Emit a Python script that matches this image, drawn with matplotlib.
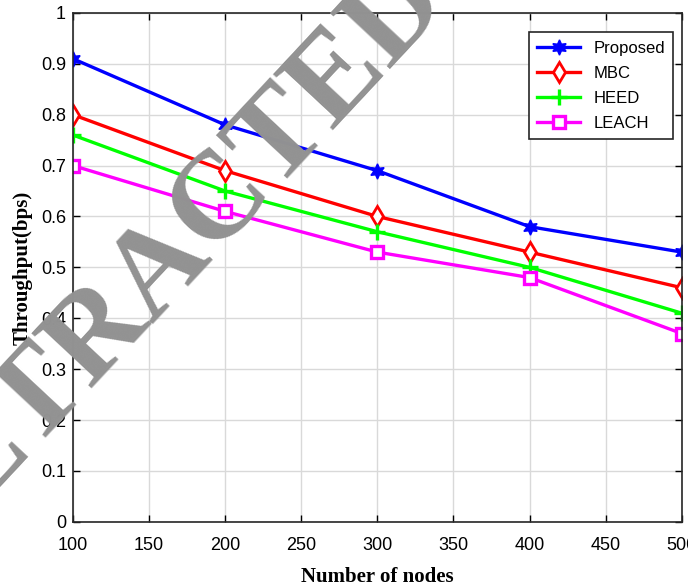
import matplotlib.pyplot as plt

nodes = [100, 200, 300, 400, 500]
proposed = [0.91, 0.78, 0.69, 0.58, 0.53]
mbc = [0.80, 0.69, 0.60, 0.53, 0.46]
heed = [0.76, 0.65, 0.57, 0.50, 0.41]
leach = [0.70, 0.61, 0.53, 0.48, 0.37]

xticks = [100, 150, 200, 250, 300, 350, 400, 450, 500]
yticks = [0, 0.1, 0.2, 0.3, 0.4, 0.5, 0.6, 0.7, 0.8, 0.9, 1]
ylabels = ["0", "0.1", "0.2", "0.3", "0.4", "0.5", "0.6", "0.7", "0.8", "0.9", "1"]

plt.rcParams['font.family'] = ['Liberation Sans', 'DejaVu Sans']

fig = plt.figure(figsize=(6.88, 5.87), dpi=100)
ax = fig.add_axes([0.106, 0.111, 0.885, 0.867])

ax.plot(nodes, proposed, color='#0000ff', lw=2.4, marker=(6, 1, 0), ms=11,
        label='Proposed')
ax.plot(nodes, mbc, color='#ff0000', lw=2.4, marker='d', ms=10,
        mfc='white', mew=2, label='MBC')
ax.plot(nodes, heed, color='#00ff00', lw=2.4, marker='+', ms=11,
        mew=2.4, label='HEED')
ax.plot(nodes, leach, color='#ff00ff', lw=2.4, marker='s', ms=8,
        mfc='white', mew=2.4, label='LEACH')

ax.set_xlim(100, 500)
ax.set_ylim(0, 1)
ax.set_xticks(xticks)
ax.set_yticks(yticks)
ax.set_yticklabels(ylabels)
ax.tick_params(direction='in', top=True, right=True, labelsize=13, length=5,
               width=1)
ax.tick_params(axis='x', pad=11)
ax.tick_params(axis='y', pad=5)
ax.grid(True, color='#d9d9d9', lw=1)
for s in ax.spines.values():
    s.set_linewidth(1.2)
    s.set_color('#262626')

ax.set_xlabel('Number of nodes', family='Liberation Serif', fontweight='bold',
              fontsize=15, labelpad=9)
ax.set_ylabel('Throughput(bps)', family='Liberation Serif', fontweight='bold',
              fontsize=15, labelpad=6)

leg = ax.legend(loc='upper right', fontsize=12, fancybox=False,
                edgecolor='#262626', framealpha=1, handlelength=2.6,
                borderpad=0.5, labelspacing=0.6, bbox_to_anchor=(1.0, 0.978))
leg.get_frame().set_linewidth(1.2)

# retraction watermark
fig.text(0.234, 0.543, 'RETRACTED', family='Liberation Serif', fontsize=90,
         fontweight='bold', color='#929292', rotation=47, ha='center',
         va='center', rotation_mode='anchor', zorder=10)

fig.savefig('out.png', dpi=100)
